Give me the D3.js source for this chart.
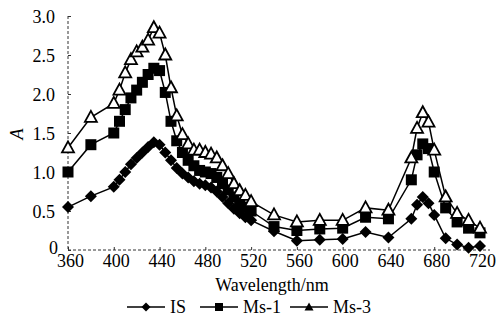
<!DOCTYPE html>
<html><head><meta charset="utf-8">
<script src="https://cdn.jsdelivr.net/npm/d3@7"></script>
<style>body{margin:0;background:#fff}svg{display:block}
svg text{font-family:"Liberation Serif","Times New Roman",Times,"DejaVu Serif","Noto Serif",serif;}</style>
</head><body><svg id="c" width="500" height="325"></svg>
<script>
const wavelengths = [360,380,400,405,410,415,420,425,430,435,440,445,450,455,460,465,470,475,480,485,490,495,500,505,510,515,520,540,560,580,600,620,640,660,665,670,675,680,690,700,710,720];
const seriesIS  = [0.55,0.69,0.81,0.90,1.00,1.10,1.18,1.25,1.32,1.38,1.35,1.25,1.15,1.05,0.98,0.93,0.88,0.85,0.83,0.80,0.75,0.68,0.60,0.53,0.47,0.42,0.38,0.24,0.12,0.13,0.14,0.23,0.16,0.40,0.58,0.68,0.60,0.45,0.15,0.07,0.03,0.05];
const seriesMs1 = [1.00,1.35,1.50,1.65,1.80,1.95,2.05,2.15,2.25,2.33,2.30,2.02,1.65,1.40,1.25,1.15,1.08,1.02,1.00,0.98,0.93,0.85,0.77,0.68,0.60,0.55,0.50,0.30,0.25,0.27,0.28,0.42,0.40,0.90,1.22,1.36,1.30,1.00,0.54,0.36,0.28,0.22];
const seriesMs3 = [1.31,1.70,1.88,2.05,2.27,2.44,2.54,2.60,2.69,2.85,2.78,2.50,2.08,1.72,1.48,1.36,1.28,1.28,1.25,1.23,1.18,1.08,0.98,0.85,0.76,0.70,0.62,0.45,0.36,0.38,0.38,0.54,0.51,1.18,1.56,1.76,1.64,1.28,0.68,0.47,0.38,0.28];
const seriesNames = ["IS","Ms-1","Ms-3"];
const xTicks = [360,400,440,480,520,560,600,640,680,720];
const yTicks = [0,0.5,1.0,1.5,2.0,2.5,3.0];
const yTickLabels = ["0","0.5","1.0","1.5","2.0","2.5","3.0"];

const svg = d3.select("#c");
const x = d3.scaleLinear().domain([360,720]).range([68,480]);
const y = d3.scaleLinear().domain([0,3]).range([250,16]);
const FS = 18;

const g = svg.append("g");
g.append("line").attr("x1",68).attr("x2",68).attr("y1",y(3)).attr("y2",y(0))
  .attr("stroke","#333").attr("stroke-width",1).attr("stroke-dasharray","3,2");
g.append("line").attr("x1",68).attr("x2",490).attr("y1",y(0)).attr("y2",y(0))
  .attr("stroke","#333").attr("stroke-width",1).attr("stroke-dasharray","3,2");

const yAxis = d3.axisLeft(y).tickValues(yTicks).tickSize(-3)
  .tickFormat((d,i)=>yTickLabels[i]);
const ya = svg.append("g").attr("transform","translate(68,0)").call(yAxis);
ya.attr("font-family",null).attr("font-size",null);
ya.select(".domain").remove();
ya.selectAll(".tick line").attr("stroke","#333");
ya.selectAll(".tick text").style("font-size",FS+"px").attr("fill","#000")
  .attr("x",-13).attr("dy","0.35em");
ya.selectAll(".tick").filter(d=>d===0).select("text").attr("x",-10).attr("dy","0.2em");

const xAxis = d3.axisBottom(x).tickValues(xTicks).tickSize(-3).tickFormat(d3.format("d"));
const xa = svg.append("g").attr("transform",`translate(0,${y(0)})`).call(xAxis);
xa.attr("font-family",null).attr("font-size",null);
xa.select(".domain").remove();
xa.selectAll(".tick line").attr("stroke","#333");
xa.selectAll(".tick text").style("font-size",FS+"px").attr("fill","#000")
  .attr("y",4).attr("dx",2);

svg.append("text").attr("x",272).attr("y",291).attr("text-anchor","middle")
  .style("font-size",FS+"px").text("Wavelength/nm");
svg.append("text").attr("transform","translate(23,134) rotate(-90)").attr("text-anchor","middle")
  .style("font-size",FS+"px").style("font-style","italic").text("A");

const data = [seriesIS, seriesMs1, seriesMs3];
const line = d3.line().x((d,i)=>x(wavelengths[i])).y(d=>y(d));

function drawMarker(sel, type){
  if(type===0){
    sel.append("path").attr("d","M0,-6L6,0L0,6L-6,0Z").attr("fill","#000");
  } else if(type===1){
    sel.append("rect").attr("x",-5.5).attr("y",-5.5).attr("width",11).attr("height",11).attr("fill","#000");
  } else {
    sel.append("path").attr("d","M0,-6.5L6,4.5L-6,4.5Z").attr("fill","#fff").attr("stroke","#000").attr("stroke-width",1.8);
  }
}

data.forEach((s,k)=>{
  svg.append("path").datum(s).attr("d",line).attr("fill","none").attr("stroke","#000").attr("stroke-width",1.5);
});
data.forEach((s,k)=>{
  svg.append("g").selectAll("g").data(s).join("g")
    .attr("transform",(d,i)=>`translate(${x(wavelengths[i])},${y(d)})`)
    .each(function(){ drawMarker(d3.select(this),k); });
});

const legendX = [127,200,290];
const lg = svg.append("g");
seriesNames.forEach((n,k)=>{
  const lx = legendX[k], ly = 307;
  lg.append("line").attr("x1",lx).attr("x2",lx+38).attr("y1",ly).attr("y2",ly).attr("stroke","#000").attr("stroke-width",1.5);
  const m = lg.append("g").attr("transform",`translate(${lx+19},${ly})`);
  if(k===0) m.append("path").attr("d","M0,-4.5L4.5,0L0,4.5L-4.5,0Z").attr("fill","#000");
  else if(k===1) m.append("rect").attr("x",-4).attr("y",-4).attr("width",8).attr("height",8).attr("fill","#000");
  else m.append("path").attr("d","M0,-4.5L4.5,3.5L-4.5,3.5Z").attr("fill","#000");
  lg.append("text").attr("x",lx+43).attr("y",ly).attr("dy","0.35em")
    .style("font-size",FS+"px").text(n);
});
</script></body></html>
